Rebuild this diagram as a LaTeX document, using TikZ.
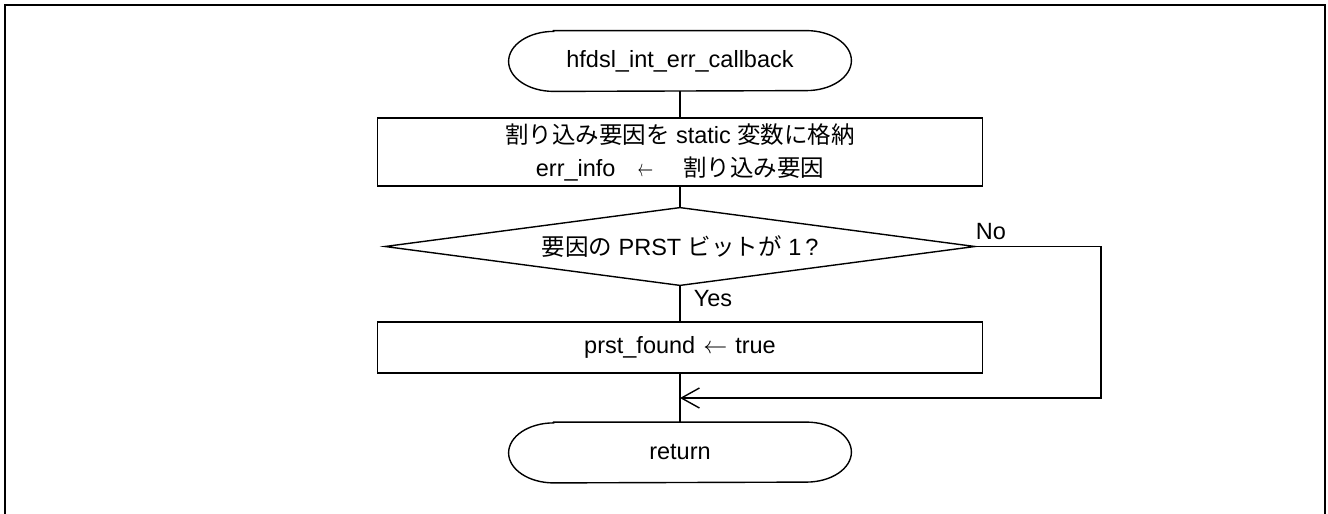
\documentclass[tikz,border=0pt]{standalone}
\usepackage{fontspec}
\setmainfont{Liberation Sans}
\newfontfamily\jp{Noto Sans CJK JP}
\usetikzlibrary{arrows.meta}
\newcommand\drawstadium[1]{%
  \draw[flow] ([xshift=22.5pt]#1.north west) -- ([xshift=-22.5pt]#1.north east)
    arc[start angle=90,end angle=-90,x radius=22.5pt,y radius=15pt]
    -- ([xshift=22.5pt]#1.south west)
    arc[start angle=270,end angle=90,x radius=22.5pt,y radius=15pt] -- cycle;}
\begin{document}
\begin{tikzpicture}[x=0.5pt,y=-0.5pt,
  font=\fontsize{11.75pt}{16.5pt}\selectfont,
  flow/.style={line width=0.7pt},
  procbox/.style={draw, line width=0.7pt, rectangle, minimum width=302.5pt, inner sep=0pt, align=center},
  termbox/.style={rectangle, inner sep=0pt, minimum width=171pt, minimum height=30pt},
  decbox/.style={rectangle, inner sep=0pt, minimum width=294.5pt, minimum height=38.5pt},
  lbl/.style={inner sep=0pt}
]
\useasboundingbox (0,0) rectangle (1328,514);
\draw[line width=1pt] (5,514) -- (5,5) -- (1325,5) -- (1325,514);

\node[termbox] (start) at (680,61) {hfdsl\_int\_err\_callback};
\drawstadium{start}

\node[procbox, minimum height=34pt] (p1) at (680,152)
  {{\jp 割り込み要因を} static {\jp 変数に格納}\\
   err\_info\hspace{11pt}\scalebox{0.65}[1]{$\leftarrow$}\hspace{15pt}{\jp 割り込み要因}};

\node[decbox] (dec) at (680,246.5) {{\jp 要因の} PRST {\jp ビットが} 1\,?};
\draw[flow] (dec.north) -- (dec.east) -- (dec.south) -- (dec.west) -- cycle;

\node[procbox, minimum height=25.5pt] (p2) at (680,347.5) {prst\_found\hspace{4pt}$\leftarrow$\hspace{4pt}true};

\node[termbox] (end) at (680,452.5) {return};
\drawstadium{end}

\coordinate (nr1) at (1101,246.5);
\coordinate (nr2) at (1101,398);
\coordinate (merge) at (680,398);

\draw[flow] (start.south) -- (p1.north);
\draw[flow] (p1.south) -- (dec.north);
\draw[flow] (dec.south) -- (p2.north);
\draw[flow] (p2.south) -- (end.north);
\draw[flow,-{Straight Barb[length=9pt,width=10pt]}] (dec.east) -- (nr1) -- (nr2) -- (merge);

\node[lbl] (no) at (991,232) {No};
\node[lbl] (yes) at (713,299) {Yes};
\end{tikzpicture}
\end{document}
